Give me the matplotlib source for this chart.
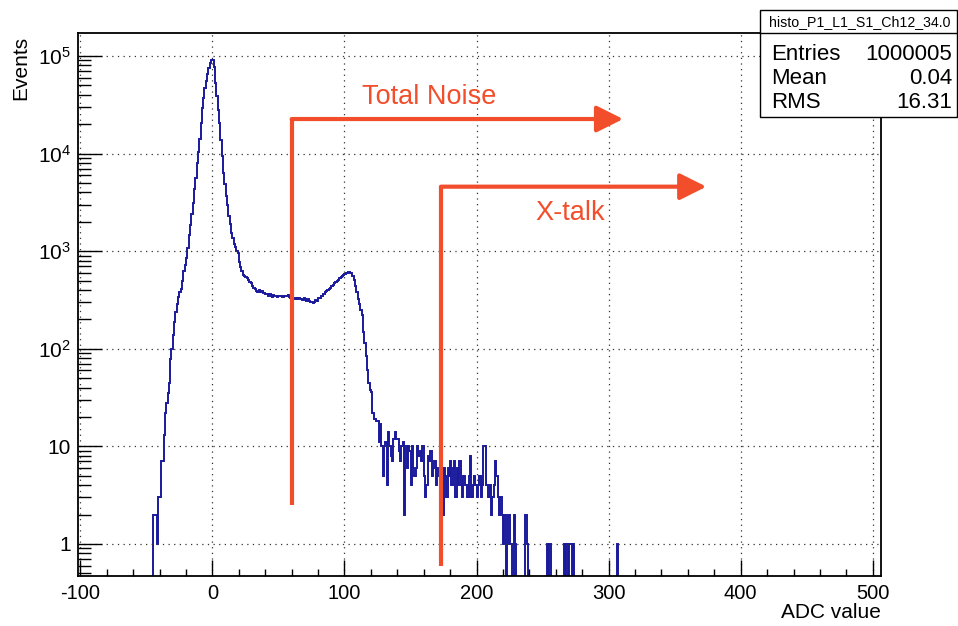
import numpy as np
import matplotlib
matplotlib.use("Agg")
import matplotlib.pyplot as plt
from matplotlib.patches import Rectangle
from matplotlib.ticker import FixedLocator, FuncFormatter, LogLocator, MultipleLocator

# ---------------- data ----------------
ADC_START = -46          # lower edge of first bin
BIN_WIDTH = 1
counts = [
    0, 2, 2, 2, 1, 3, 3, 7, 7, 13,                                   # -46..-37
    22, 28, 35, 45, 78, 100, 140, 187, 236, 290,                     # -36..-27
    340, 380, 410, 500, 620, 720, 860, 1080, 1450, 1850,             # -26..-17
    2400, 3100, 4300, 5600, 8000, 10500, 14000, 20500, 29000, 37000, # -16..-7
    47000, 55000, 66000, 76000, 85000, 90000, 91000, 78000, 53000, 39000,  # -6..3
    28000, 20600, 13900, 9400, 6300, 4900, 3700, 2950, 2300, 1900,   # 4..13
    1550, 1350, 1180, 1100, 1000, 960, 780, 690, 620, 570,           # 14..23
    560, 550, 525, 505, 480, 470, 440, 420, 405, 395,                # 24..33
    385, 400, 380, 390, 370, 375, 360, 365, 350, 360,                # 34..43
    350, 340, 355, 345, 350, 340, 345, 350, 345, 340,                # 44..53
    350, 345, 350, 355, 340, 330, 345, 335, 325, 330,                # 54..63
    320, 335, 320, 325, 315, 330, 320, 310, 325, 310,                # 64..73
    300, 305, 295, 300, 315, 310, 330, 335, 350, 345,                # 74..83
    365, 380, 390, 400, 410, 420, 440, 450, 470, 480,                # 84..93
    500, 510, 530, 540, 555, 570, 580, 600, 600, 610,                # 94..103
    600, 600, 560, 510, 440, 380, 320, 290, 250, 220,                # 104..113
    150, 115, 85, 60, 45, 38, 36, 22, 19, 19,                        # 114..123
    18, 18, 11, 17, 10, 5, 10, 11, 4, 14,                            # 124..133
    10, 8, 7, 12, 14, 12, 12, 9, 7, 10,                              # 134..143
    11, 2, 10, 6, 10, 9, 4, 10, 6, 5,                                # 144..153
    6, 10, 8, 9, 7, 10, 5, 3, 4, 8,                                  # 154..163
    7, 9, 5, 6, 7, 4, 6, 5, 3, 5,                                    # 164..173
    2, 6, 5, 3, 6, 5, 7, 4, 6, 7,                                    # 174..183
    3, 6, 4, 7, 4, 3, 5, 4, 4, 3,                                    # 184..193
    5, 8, 3, 4, 5, 4, 3, 4, 5, 3,                                    # 194..203
    4, 10, 10, 4, 4, 3, 4, 2, 3, 4,                                  # 204..213
    7, 5, 3, 2, 3, 2, 1, 2, 0, 1,                                    # 214..223
    2, 1, 1, 0, 2, 1, 0, 0, 0, 0,                                    # 224..233
    0, 0, 0, 2, 1, 0, 0, 0, 0, 0,                                    # 234..243
    0, 0, 0, 0, 0, 0, 0, 0, 0, 1,                                    # 244..253
    0, 1, 0, 0, 0, 0, 0, 0, 0, 0,                                    # 254..263
    0, 0, 1, 0, 1, 0, 1, 1, 0, 1,                                    # 264..273
    0, 0, 0, 0, 0, 0, 0, 0, 0, 0,                                    # 274..283
    0, 0, 0, 0, 0, 0, 0, 0, 0, 0,                                    # 284..293
    0, 0, 0, 0, 0, 0, 0, 0, 0, 0,                                    # 294..303
    0, 0, 1, 0, 0, 0, 0,                                             # 304..310
]

x_ticks = [-100, 0, 100, 200, 300, 400, 500]
y_ticks = [1, 10, 100, 1000, 10000, 100000]

stats_title = "histo_P1_L1_S1_Ch12_34.0"
stats_names = ["Entries", "Mean", "RMS"]
stats_values = ["1000005", "0.04", "16.31"]

total_noise_thr = 60
xtalk_thr = 173
total_noise_label = "Total Noise"
xtalk_label = "X-talk"

# ---------------- style ----------------
FONT = "Liberation Sans"
plt.rcParams["font.family"] = [FONT, "DejaVu Sans"]
plt.rcParams["mathtext.fontset"] = "custom"
plt.rcParams["mathtext.rm"] = FONT
plt.rcParams["mathtext.it"] = FONT
plt.rcParams["mathtext.bf"] = FONT

W, H = 958, 626
fig = plt.figure(figsize=(W / 100, H / 100), dpi=100)
L, R, T, B = 77.7, 880.7, 33.0, 575.7
ax = fig.add_axes([L / W, 1 - B / H, (R - L) / W, (B - T) / H])

counts_arr = np.array(counts, dtype=float)
edges = ADC_START + BIN_WIDTH * np.arange(len(counts_arr) + 1)
plot_vals = np.where(counts_arr > 0, counts_arr, 1e-3)

ax.set_yscale("log")
ax.stairs(plot_vals, edges, baseline=None, color="#1a1a9c", lw=1.4)

ax.set_xlim(-102, 506)
ax.set_ylim(0.473, 1.72e5)

ax.xaxis.set_major_locator(FixedLocator(x_ticks))
ax.xaxis.set_minor_locator(MultipleLocator(20))
ax.yaxis.set_major_locator(FixedLocator(y_ticks))
ax.yaxis.set_minor_locator(LogLocator(base=10, subs=np.arange(2, 10)))
ax.xaxis.set_major_formatter(FuncFormatter(lambda v, p: "%d" % v))


def yfmt(v, p):
    e = int(round(np.log10(v)))
    if e == 0:
        return "1"
    if e == 1:
        return "10"
    return r"$\mathregular{10^{%d}}$" % e


ax.yaxis.set_major_formatter(FuncFormatter(yfmt))
ax.yaxis.set_minor_formatter(FuncFormatter(lambda v, p: ""))

ax.tick_params(axis="x", which="major", direction="in", length=11.5, width=1,
               labelsize=14.5, pad=6, top=False)
ax.tick_params(axis="x", which="minor", direction="in", length=5.4, width=1, top=False)
ax.tick_params(axis="y", which="major", direction="in", length=17, width=1,
               labelsize=15, pad=5, right=False)
ax.tick_params(axis="y", which="minor", direction="in", length=9, width=1, right=False)
for sp in ax.spines.values():
    sp.set_linewidth(1.3)

ax.grid(True, which="major", color="#333333", linestyle=(0, (1, 3.5)), linewidth=0.9)

# axis titles
fig.text(880.7 / W, 1 - 612 / H, "ADC value", ha="right", va="center", fontsize=15)
fig.text(21 / W, 1 - 36 / H, "Events", ha="center", va="top", rotation=90, fontsize=15)

# ---------------- annotations ----------------
RED = "#f24e2c"
ax.plot([total_noise_thr, total_noise_thr], [2.5, 22600], color=RED, lw=3,
        solid_capstyle="butt", zorder=4)
ax.annotate("", xy=(311, 22600), xytext=(total_noise_thr, 22600),
            arrowprops=dict(arrowstyle="-|>,head_length=0.9,head_width=0.45",
                            color=RED, lw=3, shrinkA=0, shrinkB=0, mutation_scale=18),
            zorder=4)
ax.text(164, 38000, total_noise_label, color=RED, fontsize=19.5, ha="center", va="center")

ax.plot([xtalk_thr, xtalk_thr], [0.6, 4580], color=RED, lw=3,
        solid_capstyle="butt", zorder=4)
ax.annotate("", xy=(374, 4580), xytext=(xtalk_thr, 4580),
            arrowprops=dict(arrowstyle="-|>,head_length=0.9,head_width=0.45",
                            color=RED, lw=3, shrinkA=0, shrinkB=0, mutation_scale=18),
            zorder=4)
ax.text(271, 2460, xtalk_label, color=RED, fontsize=19.5, ha="center", va="center")

# ---------------- stats box ----------------
def fx(px):
    return px / W


def fy(py):
    return 1 - py / H


bx0, bx1, by0, byd, by1 = 760, 957, 10, 33, 117
fig.add_artist(Rectangle((fx(bx0), fy(by1)), fx(bx1) - fx(bx0), fy(by0) - fy(by1),
                         transform=fig.transFigure, facecolor="white",
                         edgecolor="black", lw=1.0, zorder=10))
fig.add_artist(plt.Line2D([fx(bx0), fx(bx1)], [fy(byd), fy(byd)],
                          transform=fig.transFigure, color="black", lw=1.0, zorder=11))
fig.text(fx(860), fy(22), stats_title, ha="center", va="center", fontsize=10.2, zorder=12)
for name, val, yy in zip(stats_names, stats_values, [55, 78, 102]):
    fig.text(fx(771), fy(yy), name, ha="left", va="center", fontsize=16, zorder=12)
    fig.text(fx(952), fy(yy), val, ha="right", va="center", fontsize=16, zorder=12)

fig.savefig("out.png", dpi=100)
